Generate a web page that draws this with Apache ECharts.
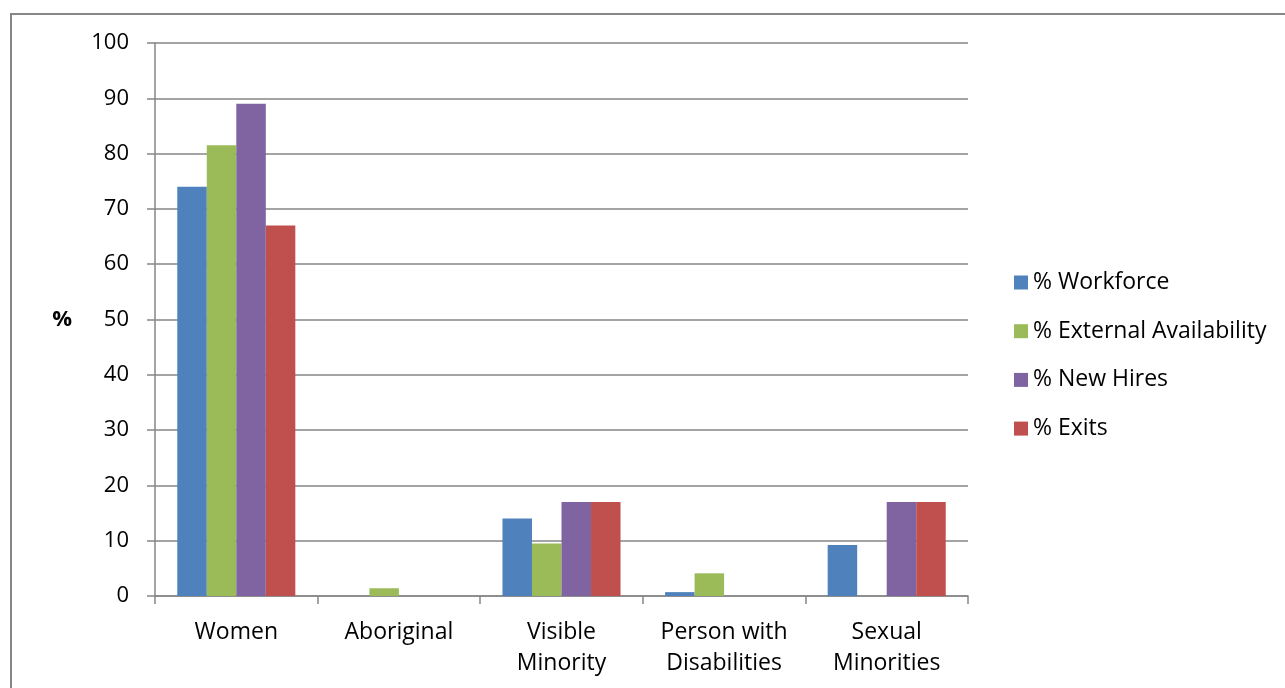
<!DOCTYPE html>
<html>
<head>
<meta charset="utf-8">
<script src="https://cdn.jsdelivr.net/npm/echarts@6/dist/echarts.min.js"></script>
<style>
  html, body { margin: 0; padding: 0; background: #fff; }
  #chart { width: 1285px; height: 688px; }
</style>
</head>
<body>
<div id="chart"></div>
<script>
// Employment equity groups and their percentages
const categories = ['Women', 'Aboriginal', 'Visible\nMinority', 'Person with\nDisabilities', 'Sexual\nMinorities'];
const workforce = [74, 0, 14, 0.7, 9.2];
const externalAvailability = [81.5, 1.4, 9.5, 4.1, 0];
const newHires = [89, 0, 17, 0, 17];
const exits = [67, 0, 17, 0, 17];
const seriesNames = ['% Workforce', '% External Availability', '% New Hires', '% Exits'];
const seriesColors = ['#4F81BD', '#9BBB59', '#8064A2', '#C0504D'];
const yTicks = { min: 0, max: 100, interval: 10 };

const FONT = 'Open Sans';
const lineColor = '#868686';

const seriesData = [workforce, externalAvailability, newHires, exits];

const chart = echarts.init(document.getElementById('chart'), null, { renderer: 'canvas' });
chart.setOption({
  animation: false,
  backgroundColor: '#ffffff',
  textStyle: { fontFamily: FONT },
  graphic: [{
    type: 'rect',
    shape: { x: 11, y: 14, width: 1400, height: 800 },
    style: { fill: 'none', stroke: lineColor, lineWidth: 2 },
    silent: true,
    z: -1
  }],
  grid: { left: 155, right: 317, top: 43, bottom: 92 },
  legend: {
    orient: 'vertical',
    left: 1009,
    top: 266,
    itemWidth: 14,
    itemHeight: 14,
    itemGap: 25.7,
    icon: 'rect',
    textStyle: { fontFamily: FONT, fontSize: 23, lineHeight: 23, color: '#000', padding: [0, 0, 0, 0] },
    data: seriesNames
  },
  xAxis: {
    type: 'category',
    data: categories,
    axisLine: { lineStyle: { color: lineColor, width: 1.5 } },
    axisTick: { show: true, length: 8, alignWithLabel: false, lineStyle: { color: lineColor, width: 1.5 } },
    axisLabel: { color: '#000', fontFamily: FONT, fontSize: 23, lineHeight: 31, margin: 21, interval: 0 }
  },
  yAxis: {
    type: 'value',
    min: yTicks.min,
    max: yTicks.max,
    interval: yTicks.interval,
    name: '%',
    nameLocation: 'middle',
    nameRotate: 0,
    nameGap: 83,
    nameTextStyle: { color: '#000', fontFamily: FONT, fontSize: 22, fontWeight: 'bold', padding: [8, 0, 0, 0] },
    axisLine: { show: true, lineStyle: { color: lineColor, width: 1.5 } },
    axisTick: { show: true, length: 8, lineStyle: { color: lineColor, width: 1.5 } },
    splitLine: { show: true, lineStyle: { color: lineColor, width: 1.5 } },
    axisLabel: { color: '#000', fontFamily: FONT, fontSize: 22, margin: 26 }
  },
  series: seriesNames.map((name, i) => ({
    name: name,
    type: 'bar',
    data: seriesData[i],
    barGap: '0%',
    barCategoryGap: '27.4%',
    itemStyle: { color: seriesColors[i] }
  }))
});
</script>
</body>
</html>
